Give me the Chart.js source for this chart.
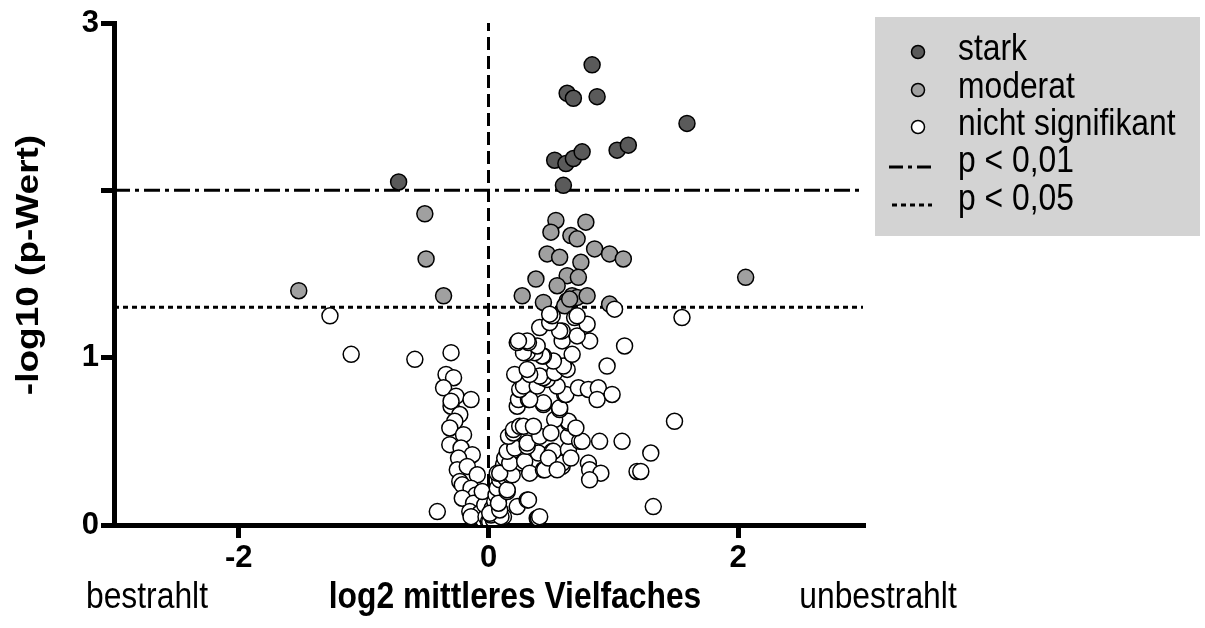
<!DOCTYPE html>
<html>
<head>
<meta charset="utf-8">
<script src="https://cdn.jsdelivr.net/npm/chart.js@4"></script>
<style>
  html, body { margin: 0; padding: 0; background: #fff; }
</style>
</head>
<body>
<canvas id="volcano" width="1205" height="628"></canvas>
<script>
// Volcano plot: log2 fold change vs -log10(p)
const xTicks = [-2, 0, 2];
const yTicks = [0, 1, 2, 3];
const yTickLabels = ['0', '1', '', '3'];
const xRange = [-3, 3];
const yRange = [0, 3];

// thresholds: -log10(0.01) and -log10(0.05)
const p01 = 2;
const p05 = 1.301;

// [log2 fold change, -log10 p]
const stark = [
    [0.83, 2.75], [0.63, 2.58], [0.68, 2.55], [0.87, 2.56], [1.59, 2.40],
    [0.53, 2.18], [0.62, 2.16], [0.68, 2.19], [0.75, 2.23], [1.03, 2.24],
    [1.12, 2.27], [0.60, 2.03], [-0.72, 2.05]
];

const moderat = [
    [-0.51, 1.86], [-0.50, 1.59], [-1.52, 1.40], [-0.36, 1.37], [0.54, 1.82],
    [0.78, 1.81], [0.50, 1.75], [0.66, 1.73], [0.71, 1.71], [0.85, 1.65],
    [0.97, 1.62], [1.08, 1.59], [0.47, 1.62], [0.57, 1.60], [0.74, 1.57],
    [0.63, 1.49], [0.72, 1.48], [0.38, 1.47], [0.55, 1.43], [0.27, 1.37],
    [0.44, 1.33], [0.67, 1.37], [0.71, 1.36], [0.79, 1.37], [0.63, 1.34],
    [0.61, 1.31], [0.97, 1.32], [0.65, 1.35], [2.06, 1.48]
];

const nichtSig = [
    // left of zero
    [-1.27, 1.25], [-1.10, 1.02], [-0.59, 0.99], [-0.30, 1.03], [-0.34, 0.90],
    [-0.28, 0.88], [-0.36, 0.82], [-0.26, 0.77], [-0.14, 0.75], [-0.30, 0.71],
    [-0.30, 0.74], [-0.23, 0.66], [-0.27, 0.62], [-0.31, 0.58], [-0.20, 0.54],
    [-0.31, 0.48], [-0.22, 0.46], [-0.13, 0.42], [-0.24, 0.40], [-0.25, 0.33],
    [-0.17, 0.35], [-0.09, 0.30], [-0.23, 0.26], [-0.21, 0.24], [-0.14, 0.22],
    [-0.10, 0.18], [-0.21, 0.16], [-0.12, 0.13], [-0.41, 0.08], [-0.15, 0.08],
    [-0.07, 0.07], [-0.04, 0.03], [-0.14, 0.05], [-0.02, 0.05], [-0.03, 0.12],
    [-0.05, 0.20],
    // wedge near the origin
    [0.00, 0.02], [0.01, 0.02], [0.04, 0.03], [0.02, 0.06], [0.06, 0.08],
    [0.03, 0.10], [0.05, 0.14], [0.08, 0.15], [0.06, 0.18], [0.11, 0.20],
    [0.07, 0.22], [0.09, 0.27], [0.14, 0.28], [0.10, 0.32], [0.17, 0.33],
    [0.12, 0.36], [0.13, 0.40],
    // right of zero
    [0.11, 0.05], [0.12, 0.05], [0.10, 0.05], [0.01, 0.07], [0.09, 0.09],
    [0.08, 0.13], [0.23, 0.11], [0.31, 0.15], [0.32, 0.15], [0.39, 0.04],
    [0.40, 0.04], [0.41, 0.05], [0.15, 0.20], [0.15, 0.21], [0.17, 0.30],
    [0.19, 0.30], [0.07, 0.31], [0.09, 0.31], [0.27, 0.37], [0.17, 0.37],
    [0.29, 0.38], [0.33, 0.31], [0.44, 0.33], [0.45, 0.33], [0.59, 0.35],
    [0.59, 0.37], [0.40, 0.43], [0.15, 0.44], [0.21, 0.46], [0.51, 0.44],
    [0.52, 0.44], [0.64, 0.45], [0.31, 0.47], [0.31, 0.49], [0.16, 0.53],
    [0.41, 0.53], [0.64, 0.53], [0.20, 0.55], [0.20, 0.57], [0.25, 0.59],
    [0.28, 0.59], [0.36, 0.59], [0.64, 0.61], [0.64, 0.62], [0.53, 0.63],
    [0.57, 0.69], [0.57, 0.70], [0.23, 0.71], [0.44, 0.72], [0.44, 0.73],
    [0.24, 0.75], [0.32, 0.75], [0.33, 0.75], [0.61, 0.78], [0.62, 0.78],
    [0.25, 0.81], [0.28, 0.83], [0.39, 0.83], [0.55, 0.83], [0.72, 0.82],
    [0.80, 0.81], [0.88, 0.82], [0.87, 0.75], [0.99, 0.78], [0.47, 0.87],
    [0.44, 0.88], [0.41, 0.89], [0.21, 0.90], [0.33, 0.90], [0.53, 0.91],
    [0.31, 0.93], [0.63, 0.93], [0.60, 0.95], [0.95, 0.95], [0.52, 0.98],
    [0.44, 1.01], [0.43, 1.01], [0.67, 1.02], [0.37, 1.03], [0.31, 1.03],
    [0.28, 1.03], [1.09, 1.07], [0.39, 1.07], [0.23, 1.09], [0.32, 1.09],
    [0.31, 1.10], [0.24, 1.10], [0.59, 1.10], [0.81, 1.10], [0.71, 1.13],
    [0.59, 1.16], [0.57, 1.16], [0.41, 1.18], [0.79, 1.20], [0.49, 1.21],
    [0.69, 1.24], [0.51, 1.25], [0.71, 1.25], [0.49, 1.26], [1.01, 1.29],
    [1.55, 1.24],
    // spread to the right
    [0.73, 0.50], [0.75, 0.50], [0.89, 0.50], [1.07, 0.50], [0.80, 0.37],
    [0.81, 0.33], [0.90, 0.31], [0.81, 0.27], [1.19, 0.32], [1.22, 0.32],
    [1.30, 0.43], [1.49, 0.62], [1.32, 0.11],
    [0.48, 0.40], [0.55, 0.33], [0.66, 0.40], [0.70, 0.58], [0.50, 0.55]
];

function toXY(pairs) {
    return pairs.map(p => ({ x: p[0], y: p[1] }));
}

const textFont = '"Liberation Sans", Arial, sans-serif';
const squash = 0.86; // the source text is narrow and tall

function squashedText(ctx, str, x, y, font, align) {
    ctx.save();
    ctx.font = font;
    ctx.textAlign = align;
    ctx.textBaseline = 'middle';
    ctx.translate(x, y);
    ctx.scale(squash, 1);
    ctx.fillText(str, 0, 0);
    ctx.restore();
}

// Legend box, side labels and axis titles
const decorations = {
    id: 'decorations',
    afterDraw(chart) {
        const ctx = chart.ctx;
        ctx.save();

        // legend box
        ctx.fillStyle = '#d3d3d3';
        ctx.fillRect(875, 17, 325, 219);

        const markers = [
            { y: 52, fill: '#5a5a5a', text: 'stark' },
            { y: 90, fill: '#a0a0a0', text: 'moderat' },
            { y: 127, fill: '#ffffff', text: 'nicht signifikant' }
        ];
        markers.forEach(m => {
            ctx.beginPath();
            ctx.arc(918, m.y, 6.5, 0, Math.PI * 2);
            ctx.fillStyle = m.fill;
            ctx.fill();
            ctx.lineWidth = 1.5;
            ctx.strokeStyle = '#000';
            ctx.stroke();
        });

        ctx.strokeStyle = '#000';
        ctx.lineWidth = 3;
        ctx.setLineDash([14, 5, 4, 5]);
        ctx.beginPath();
        ctx.moveTo(889, 167);
        ctx.lineTo(932, 167);
        ctx.stroke();
        ctx.setLineDash([5, 4]);
        ctx.beginPath();
        ctx.moveTo(892, 205);
        ctx.lineTo(932, 205);
        ctx.stroke();
        ctx.setLineDash([]);

        ctx.fillStyle = '#000';
        const legendFont = '37px ' + textFont;
        markers.forEach(m => squashedText(ctx, m.text, 958, m.y - 2, legendFont, 'left'));
        squashedText(ctx, 'p < 0,01', 958, 162, legendFont, 'left');
        squashedText(ctx, 'p < 0,05', 958, 200, legendFont, 'left');

        // bottom labels
        squashedText(ctx, 'bestrahlt', 147, 598, '37px ' + textFont, 'center');
        squashedText(ctx, 'unbestrahlt', 878, 598, '37px ' + textFont, 'center');
        squashedText(ctx, 'log2 mittleres Vielfaches', 515, 598, 'bold 37px ' + textFont, 'center');

        // y title, glyph height squeezed like the horizontal texts
        ctx.translate(29, 265);
        ctx.rotate(-Math.PI / 2);
        ctx.scale(1, squash);
        ctx.font = 'bold 37px ' + textFont;
        ctx.textAlign = 'center';
        ctx.textBaseline = 'middle';
        ctx.fillText('-log10 (p-Wert)', 0, 0);

        ctx.restore();
    }
};

const axisLine = {
    drawOnChartArea: false,
    drawTicks: true,
    tickLength: 13,
    lineWidth: 5,
    color: '#000'
};

const tickFont = { family: textFont, size: 31, weight: 'bold' };

new Chart(document.getElementById('volcano'), {
    type: 'scatter',
    data: {
        datasets: [
            {
                label: 'nicht signifikant',
                data: toXY(nichtSig),
                backgroundColor: '#ffffff',
                order: 1
            },
            {
                label: 'moderat',
                data: toXY(moderat),
                backgroundColor: '#a0a0a0',
                order: 2
            },
            {
                label: 'stark',
                data: toXY(stark),
                backgroundColor: '#5a5a5a',
                order: 3
            },
            {
                type: 'line',
                label: 'p < 0,01',
                data: [{ x: xRange[0], y: p01 }, { x: xRange[1], y: p01 }],
                borderColor: '#000',
                borderWidth: 3,
                borderDash: [16, 5, 4, 5],
                pointRadius: 0,
                order: 4
            },
            {
                type: 'line',
                label: 'p < 0,05',
                data: [{ x: xRange[0], y: p05 }, { x: xRange[1], y: p05 }],
                borderColor: '#000',
                borderWidth: 3,
                borderDash: [5, 4],
                pointRadius: 0,
                order: 4
            },
            {
                type: 'line',
                label: 'zero',
                data: [{ x: 0, y: yRange[0] }, { x: 0, y: yRange[1] }],
                borderColor: '#000',
                borderWidth: 3,
                borderDash: [13, 6],
                pointRadius: 0,
                order: 4
            }
        ]
    },
    options: {
        responsive: false,
        animation: false,
        layout: {
            padding: { top: 23, right: 342, left: 0, bottom: 0 }
        },
        elements: {
            point: {
                radius: 8,
                hoverRadius: 8,
                borderWidth: 1.5,
                borderColor: '#000'
            }
        },
        plugins: {
            legend: { display: false },
            tooltip: { enabled: false }
        },
        scales: {
            x: {
                type: 'linear',
                min: xRange[0],
                max: xRange[1],
                afterBuildTicks: s => { s.ticks = xTicks.map(v => ({ value: v })); },
                afterFit: s => { s.height = 103; },
                grid: axisLine,
                border: { display: true, width: 5, color: '#000' },
                ticks: { color: '#000', font: tickFont, padding: 2, maxRotation: 0 }
            },
            y: {
                type: 'linear',
                min: yRange[0],
                max: yRange[1],
                afterBuildTicks: s => { s.ticks = yTicks.map(v => ({ value: v })); },
                afterFit: s => { s.width = 114; },
                grid: axisLine,
                border: { display: true, width: 5, color: '#000' },
                ticks: {
                    color: '#000',
                    font: tickFont,
                    padding: 2,
                    callback: v => yTickLabels[yTicks.indexOf(v)]
                }
            }
        }
    },
    plugins: [decorations]
});
</script>
</body>
</html>
